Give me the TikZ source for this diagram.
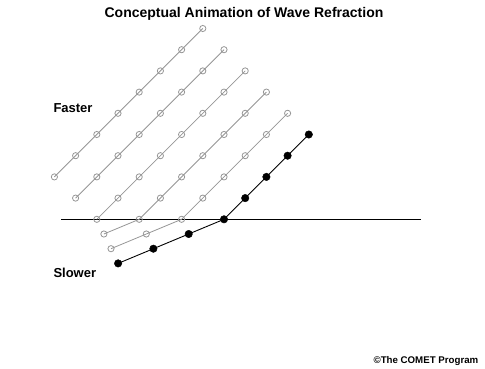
\documentclass[tikz,border=0pt]{standalone}
\usepackage{fontspec}
\setmainfont{Liberation Sans}
\definecolor{wavegray}{RGB}{150,150,150}
\begin{document}
\begin{tikzpicture}[x=1pt,y=1pt,
  graywave/.style={draw=wavegray,line width=0.8pt},
  blackwave/.style={draw=black,line width=0.9pt},
  graydot/.style={circle,draw=wavegray,line width=0.8pt,inner sep=0pt,minimum size=6.2pt},
  blackdot/.style={circle,fill=black,draw=black,inner sep=0pt,minimum size=7.5pt},
  label/.style={font=\bfseries\fontsize{13}{15}\selectfont,inner sep=0pt,anchor=base west}]
\useasboundingbox (0,0) rectangle (485,368);
% positions of the wave crests
\foreach \k in {1,...,6} {
  \pgfmathsetmacro{\bx}{224-42.4*(6-\k)}
  \pgfmathtruncatemacro{\jtop}{10-\k}
  \pgfmathtruncatemacro{\jbot}{max(0,3-\k)}
  \foreach \j in {\jbot,...,\jtop}
    \coordinate (f-\k-\j) at ({\bx+21.2*\j},{148.7+21.2*\j});
  \pgfmathtruncatemacro{\ns}{max(0,\k-3)}
  \ifnum\ns>0
    \foreach \i in {1,...,\ns}
      \coordinate (s-\k-\i) at ({\bx-35.3*\i},{148.7-14.7*\i});
  \fi
}
% boundary
\coordinate (bl) at (61,148.7);
\coordinate (br) at (421,148.7);
\draw[line width=1pt] (bl) -- (br);
% wave lines
\draw[graywave] (f-1-9) -- (f-1-2);
\draw[graywave] (f-2-8) -- (f-2-1);
\draw[graywave] (f-3-7) -- (f-3-0);
\draw[graywave] (f-4-6) -- (f-4-0) -- (s-4-1);
\draw[graywave] (f-5-5) -- (f-5-0) -- (s-5-2);
\draw[blackwave] (f-6-4) -- (f-6-0) -- (s-6-3);
% dots
\foreach \k in {1,...,5} {
  \pgfmathtruncatemacro{\jtop}{10-\k}
  \pgfmathtruncatemacro{\jbot}{max(0,3-\k)}
  \foreach \j in {\jbot,...,\jtop}
    \node[graydot] (nf-\k-\j) at (f-\k-\j) {};
  \pgfmathtruncatemacro{\ns}{max(0,\k-3)}
  \ifnum\ns>0
    \foreach \i in {1,...,\ns}
      \node[graydot] (ns-\k-\i) at (s-\k-\i) {};
  \fi
}
\foreach \j in {0,...,4}
  \node[blackdot] (nf-6-\j) at (f-6-\j) {};
\foreach \i in {1,2,3}
  \node[blackdot] (ns-6-\i) at (s-6-\i) {};
% texts
\node[font=\bfseries\fontsize{14}{16}\selectfont,inner sep=0pt,anchor=base] (title) at (244,351) {Conceptual Animation of Wave Refraction};
\node[label] (faster) at (53.3,256) {Faster};
\node[label] (slower) at (53.3,91) {Slower};
\node[font=\bfseries\fontsize{9.7}{11}\selectfont,inner sep=0pt,anchor=base east] (copy) at (478.5,4.7) {©The COMET Program};
\end{tikzpicture}
\end{document}
